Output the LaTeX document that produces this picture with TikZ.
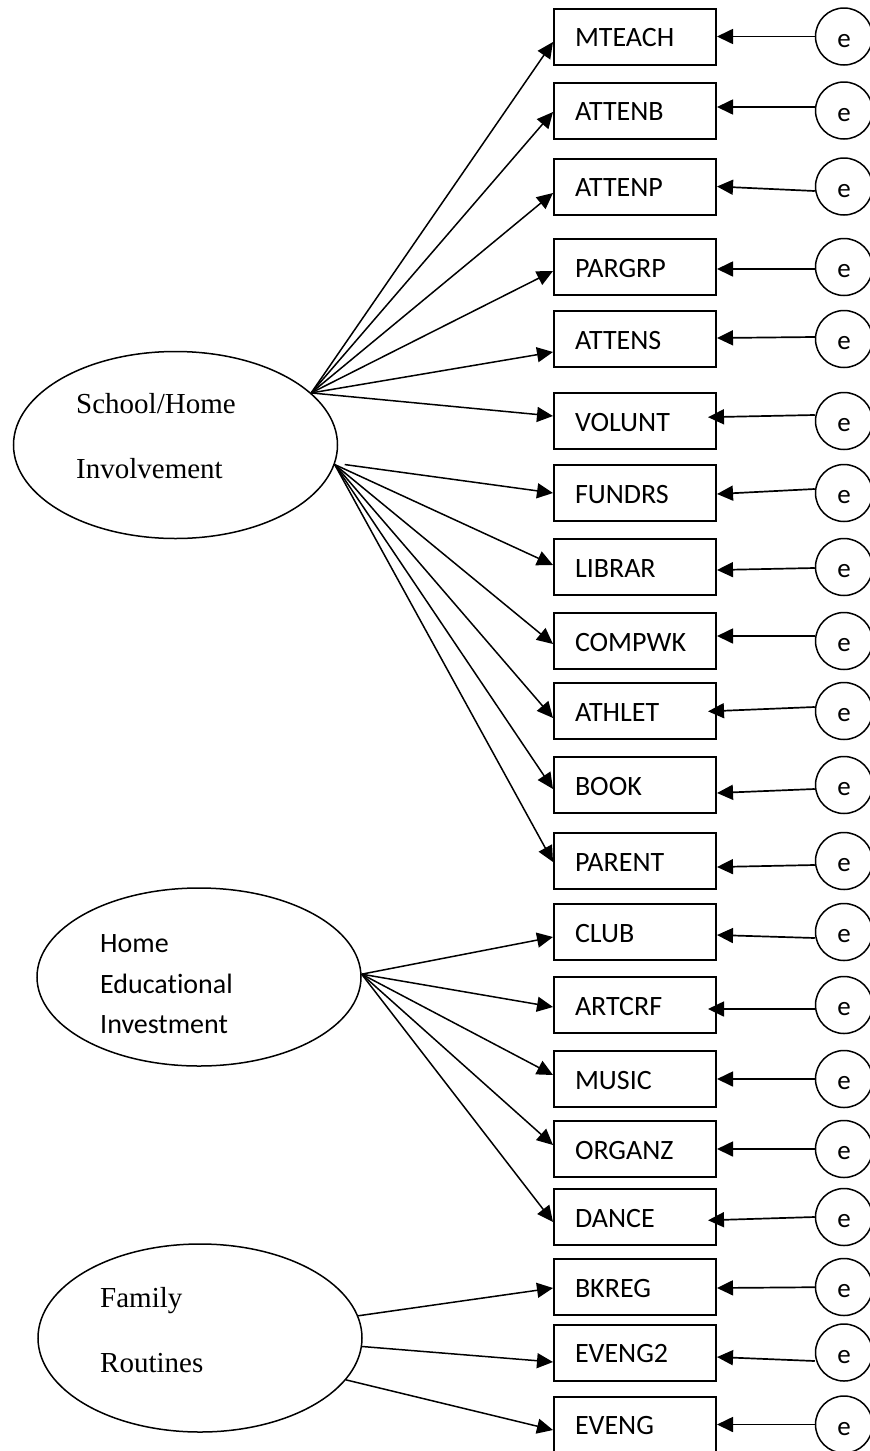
\documentclass[tikz,border=0pt]{standalone}
\usepackage{fontspec}
\setmainfont{Carlito}[Ligatures=NoCommon]
\newfontfamily\timesfont{Liberation Serif}
\usepackage{tikz}
\usetikzlibrary{positioning,shapes.geometric,arrows.meta}

\begin{document}
\begin{tikzpicture}[x=1pt,y=-1pt,on grid,node distance=74pt,>={Triangle[length=16pt,width=15pt]}]
    \tikzset{obs/.style={draw,rectangle,line width=2pt,minimum width=162pt,minimum height=56pt,
        text width=120pt,inner xsep=21pt,inner ysep=0pt,align=left,
        text height=20pt,text depth=0pt,font=\fontsize{28}{34}\selectfont},
      err/.style={draw,circle,line width=1.5pt,minimum size=57pt,inner sep=0pt,
        text height=21pt,text depth=0pt,font=\fontsize{27}{30}\selectfont},
      latent/.style={draw,ellipse,line width=1.5pt,minimum width=324pt,inner sep=0pt},
      lat/.style={anchor=base west,inner sep=0pt,font=\fontsize{28}{34}\selectfont},
      tlat/.style={lat,font={\timesfont\fontsize{29}{35}\selectfont}},
      inside/.style={shorten >=-9pt}}
    \useasboundingbox (0,0) rectangle (870,1451);
    % latent variables
    \node[latent,minimum height=187pt] (shi) at (175.5,445) {};
    \node[tlat] (shi1) at (76,413) {School/Home};
    \node[tlat] (shi2) at (76,478) {Involvement};
    \node[latent,minimum height=178pt] (hei) at (199,977) {};
    \node[lat] (hei1) at (100,952) {Home};
    \node[lat] (hei2) at (100,993) {Educational};
    \node[lat] (hei3) at (100,1033) {Investment};
    \node[latent,minimum height=188pt] (fr) at (200,1338) {};
    \node[tlat] (fr1) at (100,1307) {Family};
    \node[tlat] (fr2) at (100,1372) {Routines};
    % observed variables
    \node[obs] (mteach) at (635,36.5) {MTEACH};
    \node[obs] (attenb) [below = 74pt of mteach] {ATTENB};
    \node[obs] (attenp) [below = 76pt of attenb] {ATTENP};
    \node[obs] (pargrp) [below = 80.5pt of attenp] {PARGRP};
    \node[obs] (attens) [below = 72pt of pargrp] {ATTENS};
    \node[obs] (volunt) [below = 82pt of attens] {VOLUNT};
    \node[obs] (fundrs) [below = 72pt of volunt] {FUNDRS};
    \node[obs] (librar) [below = 74pt of fundrs] {LIBRAR};
    \node[obs] (compwk) [below = 74pt of librar] {COMPWK};
    \node[obs] (athlet) [below = 70pt of compwk] {ATHLET};
    \node[obs] (book) [below = 74pt of athlet] {BOOK};
    \node[obs] (parent) [below = 76pt of book] {PARENT};
    \node[obs] (club) [below = 71pt of parent] {CLUB};
    \node[obs] (artcrf) [below = 73pt of club] {ARTCRF};
    \node[obs] (music) [below = 74pt of artcrf] {MUSIC};
    \node[obs] (organz) [below = 70pt of music] {ORGANZ};
    \node[obs] (dance) [below = 68pt of organz] {DANCE};
    \node[obs] (bkreg) [below = 70pt of dance] {BKREG};
    \node[obs] (eveng2) [below = 65.5pt of bkreg] {EVENG2};
    \node[obs] (eveng) [below = 72pt of eveng2] {EVENG};
    % error terms
    \node[err] (e1) [right = 209pt of mteach] {e};
    \node[err] (e2) [right = 209pt of attenb] {e};
    \node[err] (e3) [right = 209pt of attenp] {e};
    \node[err] (e4) [right = 209pt of pargrp] {e};
    \node[err] (e5) [right = 209pt of attens] {e};
    \node[err] (e6) [right = 209pt of volunt] {e};
    \node[err] (e7) [right = 209pt of fundrs] {e};
    \node[err] (e8) [right = 209pt of librar] {e};
    \node[err] (e9) [right = 209pt of compwk] {e};
    \node[err] (e10) [right = 209pt of athlet] {e};
    \node[err] (e11) [right = 209pt of book] {e};
    \node[err] (e12) [right = 209pt of parent] {e};
    \node[err] (e13) [right = 209pt of club] {e};
    \node[err] (e14) [right = 209pt of artcrf] {e};
    \node[err] (e15) [right = 209pt of music] {e};
    \node[err] (e16) [right = 209pt of organz] {e};
    \node[err] (e17) [right = 209pt of dance] {e};
    \node[err] (e18) [right = 209pt of bkreg] {e};
    \node[err] (e19) [right = 209pt of eveng2] {e};
    \node[err] (e20) [right = 209pt of eveng] {e};
    % loadings
    \path[->,line width=1.5pt]
    (shi.21)
    edge ([yshift=-5.5pt]mteach.west)
    edge ([yshift=-1.5pt]attenb.west)
    edge ([yshift=-6.5pt]attenp.west)
    edge ([yshift=-4pt]pargrp.west)
    edge ([yshift=-13pt]attens.west)
    edge ([yshift=5pt]volunt.west)
    ([xshift=10pt]shi.-7)
    edge (fundrs.west)
    (shi.-7)
    edge ([yshift=2pt]librar.west)
    edge ([yshift=-3pt]compwk.west)
    edge ([yshift=-7pt]athlet.west)
    edge ([yshift=-4pt]book.west)
    edge ([yshift=-1pt]parent.west)
    (hei.1)
    edge ([yshift=-5pt]club.west)
    edge ([yshift=-2pt]artcrf.west)
    edge ([yshift=4pt]music.west)
    edge ([yshift=4pt]organz.west)
    edge ([yshift=-5pt]dance.west)
    (fr.8)
    edge ([yshift=-1pt]bkreg.west)
    (fr.-3)
    edge ([yshift=-9.5pt]eveng2.west)
    (fr.-16)
    edge ([yshift=-5.5pt]eveng.west)
    ;
    % residuals
    \path[->,line width=1.7pt]
    (e1) edge (mteach)
    ([yshift=3.5pt]e2.west) edge ([yshift=3.5pt]attenb.east)
    ([yshift=-4.5pt]e3.west) edge (attenp.east)
    ([yshift=-2pt]e4.west) edge ([yshift=-2pt]pargrp.east)
    ([yshift=2pt]e5.west) edge ([yshift=1pt]attens.east)
    ([yshift=6pt]e6.west) edge [inside] ([yshift=4pt]volunt.east)
    ([yshift=4pt]e7.west) edge ([yshift=-1pt]fundrs.east)
    ([yshift=-1pt]e8.west) edge ([yshift=-3pt]librar.east)
    ([yshift=5pt]e9.west) edge ([yshift=5pt]compwk.east)
    ([yshift=4pt]e10.west) edge [inside] (athlet.east)
    ([yshift=-4pt]e11.west) edge ([yshift=-8pt]book.east)
    ([yshift=-4pt]e12.west) edge ([yshift=-6pt]parent.east)
    ([yshift=-6pt]e13.west) edge ([yshift=-3pt]club.east)
    ([yshift=-4pt]e14.west) edge [inside] ([yshift=-4pt]artcrf.east)
    (e15) edge (music)
    (e16) edge (organz)
    (e17.west) edge [inside] ([yshift=-3pt]dance.east)
    (e18) edge ([yshift=-1pt]bkreg.east)
    ([yshift=-8.5pt]e19.west) edge ([yshift=-4.5pt]eveng2.east)
    (e20) edge (eveng)
    ;
\end{tikzpicture}
\end{document}
